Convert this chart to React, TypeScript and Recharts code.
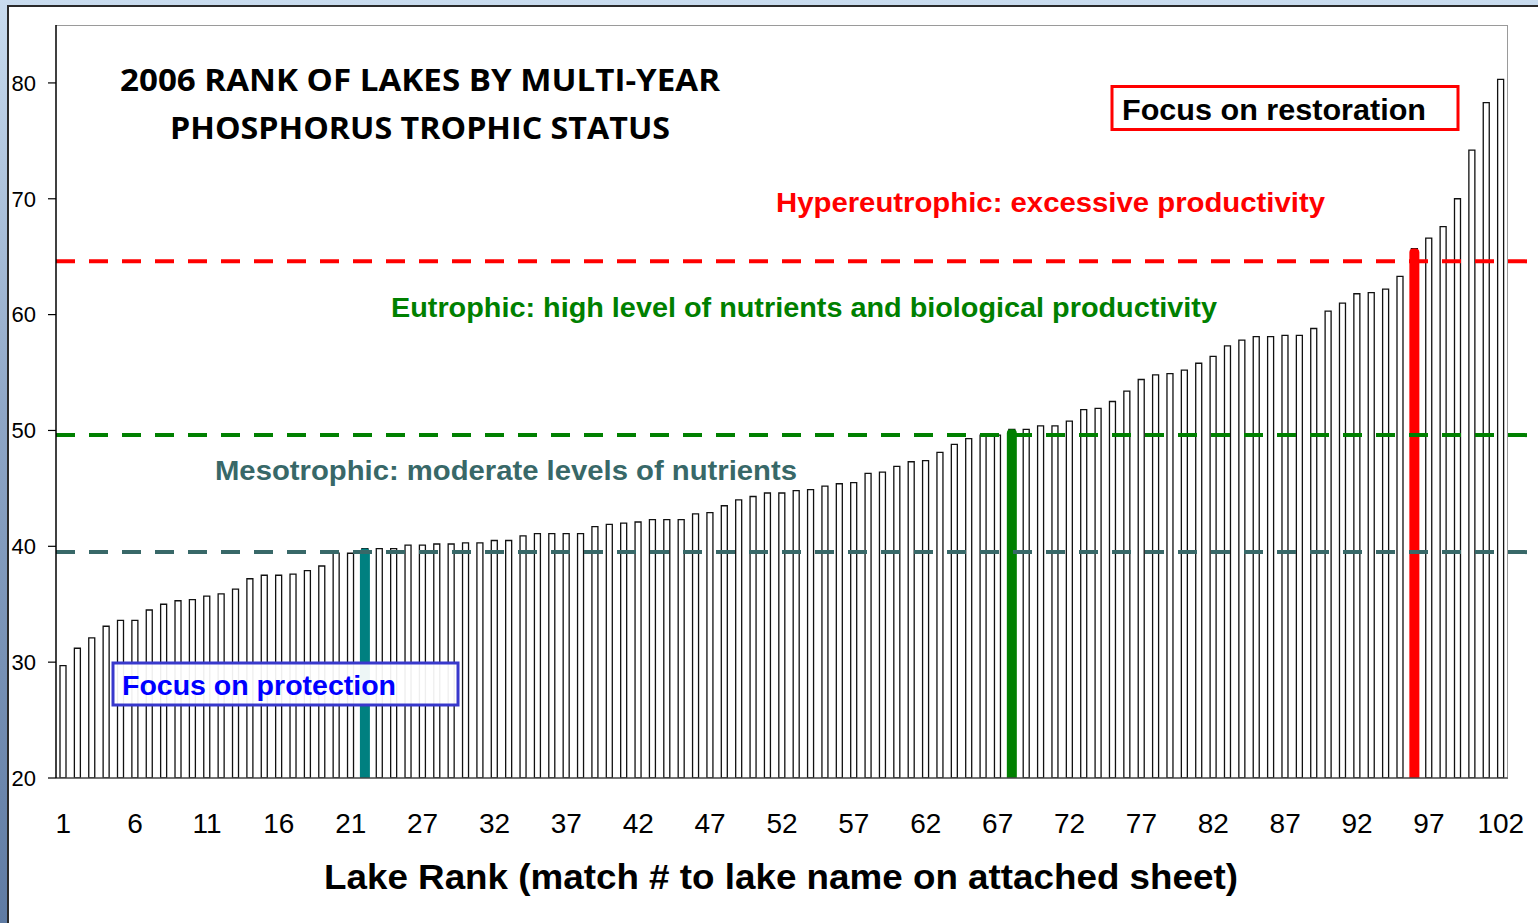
import { BarChart, Bar, XAxis, YAxis, ReferenceLine, Cell } from "recharts";

// lake rank labels, one per bar slot (the sheet skips 22)
const lakeRanks = [
  "1", "2", "3", "4", "5", "6", "7", "8", "9", "10",
  "11", "12", "13", "14", "15", "16", "17", "18", "19", "20",
  "21", "23", "24", "25", "26", "27", "28", "29", "30", "31",
  "32", "33", "34", "35", "36", "37", "38", "39", "40", "41",
  "42", "43", "44", "45", "46", "47", "48", "49", "50", "51",
  "52", "53", "54", "55", "56", "57", "58", "59", "60", "61",
  "62", "63", "64", "65", "66", "67", "68", "69", "70", "71",
  "72", "73", "74", "75", "76", "77", "78", "79", "80", "81",
  "82", "83", "84", "85", "86", "87", "88", "89", "90", "91",
  "92", "93", "94", "95", "96", "97", "98", "99", "100", "101",
  "102",
];

// multi-year phosphorus TSI
const tsiValues = [
  29.7, 31.2, 32.1, 33.1, 33.6, 33.6, 34.5, 35.0, 35.3, 35.4,
  35.7, 35.9, 36.3, 37.2, 37.5, 37.5, 37.6, 37.9, 38.3, 39.4,
  39.4, 39.8, 39.8, 39.8, 40.1, 40.1, 40.2, 40.2, 40.3, 40.3,
  40.5, 40.5, 40.9, 41.1, 41.1, 41.1, 41.1, 41.7, 41.9, 42.0,
  42.1, 42.3, 42.3, 42.3, 42.8, 42.9, 43.5, 44.0, 44.3, 44.6,
  44.6, 44.8, 44.9, 45.2, 45.4, 45.5, 46.3, 46.4, 46.9, 47.3,
  47.4, 48.1, 48.8, 49.3, 49.6, 49.6, 50.1, 50.1, 50.4, 50.4,
  50.8, 51.8, 51.9, 52.5, 53.4, 54.4, 54.8, 54.9, 55.2, 55.8,
  56.4, 57.3, 57.8, 58.1, 58.1, 58.2, 58.2, 58.8, 60.3, 61.0,
  61.8, 61.9, 62.2, 63.3, 65.7, 66.6, 67.6, 70.0, 74.2, 78.3,
  80.3,
];

const highlightRanks = ["23", "68", "96"];
const highlightColors = ["#008080", "#008000", "#ff0000"];

const thresholdValues = [39.5, 49.6, 64.6];
const thresholdColors = ["#386868", "#008000", "#ff0000"];

const yTicks = [20, 30, 40, 50, 60, 70, 80];

const data = lakeRanks.map((rank, i) => {
  const h = highlightRanks.indexOf(rank);
  return {
    rank,
    tsi: tsiValues[i],
    marked: h >= 0 ? tsiValues[i] : null,
    color: h >= 0 ? highlightColors[h] : "none",
  };
});

const FONT = "'Liberation Sans', Arial, sans-serif";
const TITLE_FONT = "'Comic Sans MS', 'Open Sans', sans-serif";

export default function App() {
  return (
    <div
      style={{
        position: "absolute",
        left: 0,
        top: 0,
        width: 1538,
        height: 923,
        overflow: "hidden",
        background: "linear-gradient(180deg, #c9dcef 0%, #8ea6c6 45%, #5f7ba3 100%)",
      }}
    >
      {/* white slide panel */}
      <div
        style={{
          position: "absolute",
          left: 7,
          top: 5,
          width: 1540,
          height: 930,
          background: "#fff",
          borderLeft: "2px solid #2a2a2a",
          borderTop: "2px solid #2a2a2a",
        }}
      />
      {/* plot area frame */}
      <div
        style={{
          position: "absolute",
          left: 56,
          top: 25,
          width: 1452,
          height: 752,
          borderTop: "1.5px solid #9a9a9a",
          borderRight: "1.5px solid #9a9a9a",
          boxSizing: "border-box",
        }}
      />
      <div style={{ position: "absolute", left: 0, top: 0 }}>
        <BarChart
          width={1538}
          height={923}
          data={data}
          margin={{ top: 25, right: 30, left: 6, bottom: 85 }}
        >
          <XAxis
            dataKey="rank"
            interval={4}
            tickLine={false}
            tickSize={0}
            tickMargin={35}
            height={60}
            axisLine={{ stroke: "#444", strokeWidth: 1.5 }}
            tick={{ fill: "#000", fontSize: 28, fontFamily: FONT }}
          />
          <XAxis xAxisId="hl" dataKey="rank" hide />
          <YAxis
            domain={[20, 85]}
            ticks={yTicks}
            width={50}
            tickSize={8}
            tickMargin={12}
            axisLine={{ stroke: "#000", strokeWidth: 1.5 }}
            tickLine={{ stroke: "#000", strokeWidth: 1.2 }}
            tick={{ fill: "#000", fontSize: 22, fontFamily: FONT }}
            allowDataOverflow
          />
          <Bar
            dataKey="tsi"
            barSize={6}
            fill="#fff"
            stroke="#111"
            strokeWidth={1.3}
            isAnimationActive={false}
          />
          {thresholdValues.map((v, i) => (
            <ReferenceLine
              key={v}
              y={v}
              stroke={thresholdColors[i]}
              shape={(p: any) => (
                <line
                  x1={p.x1}
                  y1={p.y1}
                  x2={p.x2 + 30}
                  y2={p.y2}
                  stroke={thresholdColors[i]}
                  strokeWidth={4}
                  strokeDasharray="19 14"
                />
              )}
            />
          ))}
          <Bar
            dataKey="marked"
            xAxisId="hl"
            barSize={10}
            radius={[4, 4, 0, 0]}
            isAnimationActive={false}
          >
            {data.map((d) => (
              <Cell key={d.rank} fill={d.color} />
            ))}
          </Bar>
        </BarChart>
      </div>

      <svg
        width={1538}
        height={923}
        style={{ position: "absolute", left: 0, top: 0, pointerEvents: "none" }}
      >
        <text x={120} y={90.5} textLength={600} lengthAdjust="spacingAndGlyphs"
          fontFamily={TITLE_FONT} fontWeight={700} fontSize={31} fill="#000">
          2006 RANK OF LAKES BY MULTI-YEAR
        </text>
        <text x={170} y={138.5} textLength={500} lengthAdjust="spacingAndGlyphs"
          fontFamily={TITLE_FONT} fontWeight={700} fontSize={31} fill="#000">
          PHOSPHORUS TROPHIC STATUS
        </text>

        <rect x={1112} y={86.5} width={346} height={43} fill="#fff" stroke="#ff0000" strokeWidth={3} />
        <text x={1122} y={120} textLength={304} lengthAdjust="spacingAndGlyphs"
          fontFamily={FONT} fontWeight={700} fontSize={29} fill="#000">
          Focus on restoration
        </text>

        <text x={776} y={212} textLength={549} lengthAdjust="spacingAndGlyphs"
          fontFamily={FONT} fontWeight={700} fontSize={28} fill="#ff0000">
          Hypereutrophic: excessive productivity
        </text>
        <text x={391} y={316.5} textLength={826} lengthAdjust="spacingAndGlyphs"
          fontFamily={FONT} fontWeight={700} fontSize={27} fill="#008000">
          Eutrophic: high level of nutrients and biological productivity
        </text>
        <text x={215} y={480} textLength={582} lengthAdjust="spacingAndGlyphs"
          fontFamily={FONT} fontWeight={700} fontSize={28} fill="#386868">
          Mesotrophic: moderate levels of nutrients
        </text>

        <rect x={113} y={663} width={345} height={42} fill="#fff" fillOpacity={0.93} stroke="#3838cc" strokeWidth={3} />
        <text x={122} y={695} textLength={274} lengthAdjust="spacingAndGlyphs"
          fontFamily={FONT} fontWeight={700} fontSize={28} fill="#0000ff">
          Focus on protection
        </text>

        <text x={324} y={888.5} textLength={914} lengthAdjust="spacingAndGlyphs"
          fontFamily={FONT} fontWeight={700} fontSize={35} fill="#000">
          Lake Rank (match # to lake name on attached sheet)
        </text>
      </svg>
    </div>
  );
}
